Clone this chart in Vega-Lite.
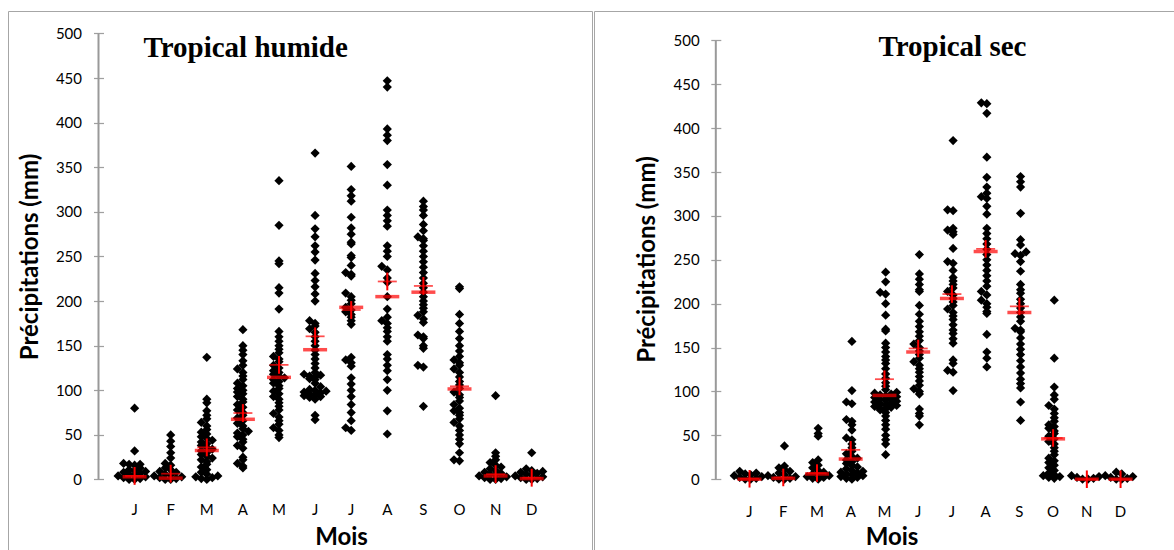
{
"$schema": "https://vega.github.io/schema/vega-lite/v6.json",
"background": "white",
"padding": {"left": 7, "top": 10, "right": 0, "bottom": 0},
"spacing": 0,
"config": {"view": {"stroke": "#a6a6a6", "strokeWidth": 1}, "font": "Lato"},
"datasets": {
"axisline": [{"m": 0}],
"pts": [
{"p":"h","m":1,"v":80},{"p":"h","m":1,"v":32},{"p":"h","m":1,"v":18},{"p":"h","m":1,"v":17},{"p":"h","m":1,"v":17},{"p":"h","m":1,"v":16},{"p":"h","m":1,"v":13},{"p":"h","m":1,"v":11},{"p":"h","m":1,"v":10},{"p":"h","m":1,"v":9},{"p":"h","m":1,"v":8},{"p":"h","m":1,"v":7},{"p":"h","m":1,"v":6},{"p":"h","m":1,"v":5},{"p":"h","m":1,"v":4},{"p":"h","m":1,"v":3},{"p":"h","m":1,"v":2},{"p":"h","m":1,"v":1},{"p":"h","m":1,"v":0},{"p":"h","m":1,"v":0},
{"p":"h","m":2,"v":50},{"p":"h","m":2,"v":43},{"p":"h","m":2,"v":37},{"p":"h","m":2,"v":30},{"p":"h","m":2,"v":24},{"p":"h","m":2,"v":18},{"p":"h","m":2,"v":16},{"p":"h","m":2,"v":13},{"p":"h","m":2,"v":11},{"p":"h","m":2,"v":9},{"p":"h","m":2,"v":8},{"p":"h","m":2,"v":6},{"p":"h","m":2,"v":5},{"p":"h","m":2,"v":4},{"p":"h","m":2,"v":3},{"p":"h","m":2,"v":2},{"p":"h","m":2,"v":1},{"p":"h","m":2,"v":0},{"p":"h","m":2,"v":0},
{"p":"h","m":3,"v":137},{"p":"h","m":3,"v":90},{"p":"h","m":3,"v":86},{"p":"h","m":3,"v":77},{"p":"h","m":3,"v":72},{"p":"h","m":3,"v":68},{"p":"h","m":3,"v":64},{"p":"h","m":3,"v":60},{"p":"h","m":3,"v":56},{"p":"h","m":3,"v":53},{"p":"h","m":3,"v":51},{"p":"h","m":3,"v":48},{"p":"h","m":3,"v":46},{"p":"h","m":3,"v":44},{"p":"h","m":3,"v":42},{"p":"h","m":3,"v":40},{"p":"h","m":3,"v":38},{"p":"h","m":3,"v":36},{"p":"h","m":3,"v":34},{"p":"h","m":3,"v":32},{"p":"h","m":3,"v":30},{"p":"h","m":3,"v":28},{"p":"h","m":3,"v":26},{"p":"h","m":3,"v":24},{"p":"h","m":3,"v":22},{"p":"h","m":3,"v":20},{"p":"h","m":3,"v":17},{"p":"h","m":3,"v":14},{"p":"h","m":3,"v":11},{"p":"h","m":3,"v":8},{"p":"h","m":3,"v":6},{"p":"h","m":3,"v":4},{"p":"h","m":3,"v":3},{"p":"h","m":3,"v":2},{"p":"h","m":3,"v":1},{"p":"h","m":3,"v":0},
{"p":"h","m":4,"v":168},{"p":"h","m":4,"v":150},{"p":"h","m":4,"v":145},{"p":"h","m":4,"v":140},{"p":"h","m":4,"v":133},{"p":"h","m":4,"v":128},{"p":"h","m":4,"v":124},{"p":"h","m":4,"v":120},{"p":"h","m":4,"v":116},{"p":"h","m":4,"v":112},{"p":"h","m":4,"v":108},{"p":"h","m":4,"v":105},{"p":"h","m":4,"v":102},{"p":"h","m":4,"v":100},{"p":"h","m":4,"v":98},{"p":"h","m":4,"v":96},{"p":"h","m":4,"v":93},{"p":"h","m":4,"v":90},{"p":"h","m":4,"v":87},{"p":"h","m":4,"v":84},{"p":"h","m":4,"v":81},{"p":"h","m":4,"v":78},{"p":"h","m":4,"v":75},{"p":"h","m":4,"v":72},{"p":"h","m":4,"v":69},{"p":"h","m":4,"v":66},{"p":"h","m":4,"v":63},{"p":"h","m":4,"v":60},{"p":"h","m":4,"v":57},{"p":"h","m":4,"v":54},{"p":"h","m":4,"v":52},{"p":"h","m":4,"v":50},{"p":"h","m":4,"v":48},{"p":"h","m":4,"v":45},{"p":"h","m":4,"v":42},{"p":"h","m":4,"v":38},{"p":"h","m":4,"v":35},{"p":"h","m":4,"v":25},{"p":"h","m":4,"v":22},{"p":"h","m":4,"v":18},{"p":"h","m":4,"v":15},{"p":"h","m":4,"v":13},
{"p":"h","m":5,"v":335},{"p":"h","m":5,"v":285},{"p":"h","m":5,"v":245},{"p":"h","m":5,"v":242},{"p":"h","m":5,"v":215},{"p":"h","m":5,"v":209},{"p":"h","m":5,"v":191},{"p":"h","m":5,"v":166},{"p":"h","m":5,"v":160},{"p":"h","m":5,"v":155},{"p":"h","m":5,"v":150},{"p":"h","m":5,"v":146},{"p":"h","m":5,"v":142},{"p":"h","m":5,"v":138},{"p":"h","m":5,"v":135},{"p":"h","m":5,"v":132},{"p":"h","m":5,"v":128},{"p":"h","m":5,"v":125},{"p":"h","m":5,"v":122},{"p":"h","m":5,"v":120},{"p":"h","m":5,"v":118},{"p":"h","m":5,"v":116},{"p":"h","m":5,"v":114},{"p":"h","m":5,"v":112},{"p":"h","m":5,"v":110},{"p":"h","m":5,"v":108},{"p":"h","m":5,"v":105},{"p":"h","m":5,"v":102},{"p":"h","m":5,"v":99},{"p":"h","m":5,"v":96},{"p":"h","m":5,"v":93},{"p":"h","m":5,"v":90},{"p":"h","m":5,"v":86},{"p":"h","m":5,"v":82},{"p":"h","m":5,"v":78},{"p":"h","m":5,"v":74},{"p":"h","m":5,"v":70},{"p":"h","m":5,"v":66},{"p":"h","m":5,"v":62},{"p":"h","m":5,"v":58},{"p":"h","m":5,"v":55},{"p":"h","m":5,"v":50},{"p":"h","m":5,"v":47},
{"p":"h","m":6,"v":366},{"p":"h","m":6,"v":296},{"p":"h","m":6,"v":281},{"p":"h","m":6,"v":272},{"p":"h","m":6,"v":262},{"p":"h","m":6,"v":255},{"p":"h","m":6,"v":246},{"p":"h","m":6,"v":231},{"p":"h","m":6,"v":223},{"p":"h","m":6,"v":216},{"p":"h","m":6,"v":208},{"p":"h","m":6,"v":200},{"p":"h","m":6,"v":178},{"p":"h","m":6,"v":175},{"p":"h","m":6,"v":172},{"p":"h","m":6,"v":169},{"p":"h","m":6,"v":165},{"p":"h","m":6,"v":160},{"p":"h","m":6,"v":155},{"p":"h","m":6,"v":150},{"p":"h","m":6,"v":145},{"p":"h","m":6,"v":140},{"p":"h","m":6,"v":135},{"p":"h","m":6,"v":130},{"p":"h","m":6,"v":125},{"p":"h","m":6,"v":120},{"p":"h","m":6,"v":118},{"p":"h","m":6,"v":117},{"p":"h","m":6,"v":116},{"p":"h","m":6,"v":115},{"p":"h","m":6,"v":113},{"p":"h","m":6,"v":112},{"p":"h","m":6,"v":108},{"p":"h","m":6,"v":104},{"p":"h","m":6,"v":101},{"p":"h","m":6,"v":100},{"p":"h","m":6,"v":99},{"p":"h","m":6,"v":98},{"p":"h","m":6,"v":97},{"p":"h","m":6,"v":96},{"p":"h","m":6,"v":95},{"p":"h","m":6,"v":94},{"p":"h","m":6,"v":93},{"p":"h","m":6,"v":92},{"p":"h","m":6,"v":90},{"p":"h","m":6,"v":72},{"p":"h","m":6,"v":67},
{"p":"h","m":7,"v":351},{"p":"h","m":7,"v":325},{"p":"h","m":7,"v":318},{"p":"h","m":7,"v":312},{"p":"h","m":7,"v":294},{"p":"h","m":7,"v":282},{"p":"h","m":7,"v":275},{"p":"h","m":7,"v":266},{"p":"h","m":7,"v":264},{"p":"h","m":7,"v":251},{"p":"h","m":7,"v":249},{"p":"h","m":7,"v":240},{"p":"h","m":7,"v":232},{"p":"h","m":7,"v":230},{"p":"h","m":7,"v":228},{"p":"h","m":7,"v":209},{"p":"h","m":7,"v":205},{"p":"h","m":7,"v":201},{"p":"h","m":7,"v":197},{"p":"h","m":7,"v":193},{"p":"h","m":7,"v":190},{"p":"h","m":7,"v":188},{"p":"h","m":7,"v":185},{"p":"h","m":7,"v":182},{"p":"h","m":7,"v":178},{"p":"h","m":7,"v":174},{"p":"h","m":7,"v":137},{"p":"h","m":7,"v":134},{"p":"h","m":7,"v":131},{"p":"h","m":7,"v":127},{"p":"h","m":7,"v":114},{"p":"h","m":7,"v":107},{"p":"h","m":7,"v":100},{"p":"h","m":7,"v":93},{"p":"h","m":7,"v":84},{"p":"h","m":7,"v":75},{"p":"h","m":7,"v":66},{"p":"h","m":7,"v":58},{"p":"h","m":7,"v":55},
{"p":"h","m":8,"v":447},{"p":"h","m":8,"v":440},{"p":"h","m":8,"v":393},{"p":"h","m":8,"v":386},{"p":"h","m":8,"v":380},{"p":"h","m":8,"v":353},{"p":"h","m":8,"v":330},{"p":"h","m":8,"v":302},{"p":"h","m":8,"v":296},{"p":"h","m":8,"v":290},{"p":"h","m":8,"v":284},{"p":"h","m":8,"v":262},{"p":"h","m":8,"v":256},{"p":"h","m":8,"v":250},{"p":"h","m":8,"v":239},{"p":"h","m":8,"v":235},{"p":"h","m":8,"v":226},{"p":"h","m":8,"v":221},{"p":"h","m":8,"v":205},{"p":"h","m":8,"v":191},{"p":"h","m":8,"v":182},{"p":"h","m":8,"v":178},{"p":"h","m":8,"v":175},{"p":"h","m":8,"v":170},{"p":"h","m":8,"v":166},{"p":"h","m":8,"v":160},{"p":"h","m":8,"v":155},{"p":"h","m":8,"v":140},{"p":"h","m":8,"v":135},{"p":"h","m":8,"v":128},{"p":"h","m":8,"v":122},{"p":"h","m":8,"v":112},{"p":"h","m":8,"v":100},{"p":"h","m":8,"v":77},{"p":"h","m":8,"v":51},
{"p":"h","m":9,"v":312},{"p":"h","m":9,"v":306},{"p":"h","m":9,"v":302},{"p":"h","m":9,"v":296},{"p":"h","m":9,"v":286},{"p":"h","m":9,"v":279},{"p":"h","m":9,"v":272},{"p":"h","m":9,"v":270},{"p":"h","m":9,"v":268},{"p":"h","m":9,"v":262},{"p":"h","m":9,"v":256},{"p":"h","m":9,"v":250},{"p":"h","m":9,"v":244},{"p":"h","m":9,"v":238},{"p":"h","m":9,"v":232},{"p":"h","m":9,"v":226},{"p":"h","m":9,"v":220},{"p":"h","m":9,"v":215},{"p":"h","m":9,"v":210},{"p":"h","m":9,"v":205},{"p":"h","m":9,"v":200},{"p":"h","m":9,"v":196},{"p":"h","m":9,"v":192},{"p":"h","m":9,"v":188},{"p":"h","m":9,"v":184},{"p":"h","m":9,"v":180},{"p":"h","m":9,"v":176},{"p":"h","m":9,"v":162},{"p":"h","m":9,"v":160},{"p":"h","m":9,"v":158},{"p":"h","m":9,"v":150},{"p":"h","m":9,"v":147},{"p":"h","m":9,"v":128},{"p":"h","m":9,"v":126},{"p":"h","m":9,"v":82},
{"p":"h","m":10,"v":216},{"p":"h","m":10,"v":214},{"p":"h","m":10,"v":185},{"p":"h","m":10,"v":175},{"p":"h","m":10,"v":166},{"p":"h","m":10,"v":158},{"p":"h","m":10,"v":150},{"p":"h","m":10,"v":144},{"p":"h","m":10,"v":138},{"p":"h","m":10,"v":134},{"p":"h","m":10,"v":131},{"p":"h","m":10,"v":128},{"p":"h","m":10,"v":124},{"p":"h","m":10,"v":120},{"p":"h","m":10,"v":115},{"p":"h","m":10,"v":110},{"p":"h","m":10,"v":106},{"p":"h","m":10,"v":102},{"p":"h","m":10,"v":98},{"p":"h","m":10,"v":95},{"p":"h","m":10,"v":92},{"p":"h","m":10,"v":88},{"p":"h","m":10,"v":84},{"p":"h","m":10,"v":80},{"p":"h","m":10,"v":77},{"p":"h","m":10,"v":75},{"p":"h","m":10,"v":72},{"p":"h","m":10,"v":68},{"p":"h","m":10,"v":64},{"p":"h","m":10,"v":60},{"p":"h","m":10,"v":55},{"p":"h","m":10,"v":50},{"p":"h","m":10,"v":45},{"p":"h","m":10,"v":40},{"p":"h","m":10,"v":30},{"p":"h","m":10,"v":22},{"p":"h","m":10,"v":21},
{"p":"h","m":11,"v":94},{"p":"h","m":11,"v":30},{"p":"h","m":11,"v":26},{"p":"h","m":11,"v":22},{"p":"h","m":11,"v":19},{"p":"h","m":11,"v":16},{"p":"h","m":11,"v":14},{"p":"h","m":11,"v":12},{"p":"h","m":11,"v":10},{"p":"h","m":11,"v":8},{"p":"h","m":11,"v":7},{"p":"h","m":11,"v":6},{"p":"h","m":11,"v":5},{"p":"h","m":11,"v":4},{"p":"h","m":11,"v":3},{"p":"h","m":11,"v":2},{"p":"h","m":11,"v":1},{"p":"h","m":11,"v":0},{"p":"h","m":11,"v":0},
{"p":"h","m":12,"v":30},{"p":"h","m":12,"v":12},{"p":"h","m":12,"v":10},{"p":"h","m":12,"v":9},{"p":"h","m":12,"v":8},{"p":"h","m":12,"v":7},{"p":"h","m":12,"v":6},{"p":"h","m":12,"v":5},{"p":"h","m":12,"v":4},{"p":"h","m":12,"v":3},{"p":"h","m":12,"v":2},{"p":"h","m":12,"v":1},{"p":"h","m":12,"v":0},{"p":"h","m":12,"v":0},
{"p":"s","m":1,"v":9},{"p":"s","m":1,"v":7},{"p":"s","m":1,"v":6},{"p":"s","m":1,"v":5},{"p":"s","m":1,"v":4},{"p":"s","m":1,"v":3},{"p":"s","m":1,"v":2},{"p":"s","m":1,"v":1},{"p":"s","m":1,"v":0},{"p":"s","m":1,"v":0},
{"p":"s","m":2,"v":38},{"p":"s","m":2,"v":15},{"p":"s","m":2,"v":13},{"p":"s","m":2,"v":11},{"p":"s","m":2,"v":9},{"p":"s","m":2,"v":7},{"p":"s","m":2,"v":5},{"p":"s","m":2,"v":4},{"p":"s","m":2,"v":3},{"p":"s","m":2,"v":2},{"p":"s","m":2,"v":1},{"p":"s","m":2,"v":0},{"p":"s","m":2,"v":0},
{"p":"s","m":3,"v":58},{"p":"s","m":3,"v":52},{"p":"s","m":3,"v":49},{"p":"s","m":3,"v":22},{"p":"s","m":3,"v":19},{"p":"s","m":3,"v":16},{"p":"s","m":3,"v":13},{"p":"s","m":3,"v":10},{"p":"s","m":3,"v":8},{"p":"s","m":3,"v":6},{"p":"s","m":3,"v":5},{"p":"s","m":3,"v":4},{"p":"s","m":3,"v":3},{"p":"s","m":3,"v":2},{"p":"s","m":3,"v":1},{"p":"s","m":3,"v":0},
{"p":"s","m":4,"v":157},{"p":"s","m":4,"v":101},{"p":"s","m":4,"v":88},{"p":"s","m":4,"v":86},{"p":"s","m":4,"v":68},{"p":"s","m":4,"v":66},{"p":"s","m":4,"v":62},{"p":"s","m":4,"v":56},{"p":"s","m":4,"v":47},{"p":"s","m":4,"v":45},{"p":"s","m":4,"v":40},{"p":"s","m":4,"v":36},{"p":"s","m":4,"v":32},{"p":"s","m":4,"v":29},{"p":"s","m":4,"v":26},{"p":"s","m":4,"v":24},{"p":"s","m":4,"v":22},{"p":"s","m":4,"v":20},{"p":"s","m":4,"v":18},{"p":"s","m":4,"v":16},{"p":"s","m":4,"v":14},{"p":"s","m":4,"v":12},{"p":"s","m":4,"v":10},{"p":"s","m":4,"v":9},{"p":"s","m":4,"v":8},{"p":"s","m":4,"v":7},{"p":"s","m":4,"v":6},{"p":"s","m":4,"v":5},{"p":"s","m":4,"v":4},{"p":"s","m":4,"v":3},{"p":"s","m":4,"v":2},{"p":"s","m":4,"v":1},{"p":"s","m":4,"v":0},
{"p":"s","m":5,"v":236},{"p":"s","m":5,"v":225},{"p":"s","m":5,"v":213},{"p":"s","m":5,"v":211},{"p":"s","m":5,"v":200},{"p":"s","m":5,"v":187},{"p":"s","m":5,"v":171},{"p":"s","m":5,"v":169},{"p":"s","m":5,"v":155},{"p":"s","m":5,"v":150},{"p":"s","m":5,"v":145},{"p":"s","m":5,"v":140},{"p":"s","m":5,"v":136},{"p":"s","m":5,"v":132},{"p":"s","m":5,"v":126},{"p":"s","m":5,"v":120},{"p":"s","m":5,"v":115},{"p":"s","m":5,"v":110},{"p":"s","m":5,"v":106},{"p":"s","m":5,"v":102},{"p":"s","m":5,"v":99},{"p":"s","m":5,"v":98},{"p":"s","m":5,"v":97},{"p":"s","m":5,"v":96},{"p":"s","m":5,"v":95},{"p":"s","m":5,"v":94},{"p":"s","m":5,"v":93},{"p":"s","m":5,"v":92},{"p":"s","m":5,"v":91},{"p":"s","m":5,"v":90},{"p":"s","m":5,"v":89},{"p":"s","m":5,"v":88},{"p":"s","m":5,"v":87},{"p":"s","m":5,"v":86},{"p":"s","m":5,"v":85},{"p":"s","m":5,"v":84},{"p":"s","m":5,"v":83},{"p":"s","m":5,"v":82},{"p":"s","m":5,"v":81},{"p":"s","m":5,"v":80},{"p":"s","m":5,"v":79},{"p":"s","m":5,"v":76},{"p":"s","m":5,"v":72},{"p":"s","m":5,"v":67},{"p":"s","m":5,"v":62},{"p":"s","m":5,"v":57},{"p":"s","m":5,"v":50},{"p":"s","m":5,"v":45},{"p":"s","m":5,"v":40},{"p":"s","m":5,"v":28},
{"p":"s","m":6,"v":256},{"p":"s","m":6,"v":234},{"p":"s","m":6,"v":228},{"p":"s","m":6,"v":222},{"p":"s","m":6,"v":216},{"p":"s","m":6,"v":214},{"p":"s","m":6,"v":198},{"p":"s","m":6,"v":188},{"p":"s","m":6,"v":180},{"p":"s","m":6,"v":174},{"p":"s","m":6,"v":168},{"p":"s","m":6,"v":163},{"p":"s","m":6,"v":158},{"p":"s","m":6,"v":154},{"p":"s","m":6,"v":150},{"p":"s","m":6,"v":146},{"p":"s","m":6,"v":142},{"p":"s","m":6,"v":138},{"p":"s","m":6,"v":134},{"p":"s","m":6,"v":130},{"p":"s","m":6,"v":126},{"p":"s","m":6,"v":122},{"p":"s","m":6,"v":117},{"p":"s","m":6,"v":112},{"p":"s","m":6,"v":107},{"p":"s","m":6,"v":103},{"p":"s","m":6,"v":100},{"p":"s","m":6,"v":97},{"p":"s","m":6,"v":80},{"p":"s","m":6,"v":75},{"p":"s","m":6,"v":72},{"p":"s","m":6,"v":62},
{"p":"s","m":7,"v":386},{"p":"s","m":7,"v":307},{"p":"s","m":7,"v":306},{"p":"s","m":7,"v":286},{"p":"s","m":7,"v":284},{"p":"s","m":7,"v":282},{"p":"s","m":7,"v":279},{"p":"s","m":7,"v":263},{"p":"s","m":7,"v":248},{"p":"s","m":7,"v":246},{"p":"s","m":7,"v":238},{"p":"s","m":7,"v":230},{"p":"s","m":7,"v":226},{"p":"s","m":7,"v":222},{"p":"s","m":7,"v":218},{"p":"s","m":7,"v":214},{"p":"s","m":7,"v":210},{"p":"s","m":7,"v":206},{"p":"s","m":7,"v":202},{"p":"s","m":7,"v":198},{"p":"s","m":7,"v":194},{"p":"s","m":7,"v":190},{"p":"s","m":7,"v":186},{"p":"s","m":7,"v":182},{"p":"s","m":7,"v":176},{"p":"s","m":7,"v":170},{"p":"s","m":7,"v":166},{"p":"s","m":7,"v":160},{"p":"s","m":7,"v":155},{"p":"s","m":7,"v":136},{"p":"s","m":7,"v":132},{"p":"s","m":7,"v":124},{"p":"s","m":7,"v":122},{"p":"s","m":7,"v":101},
{"p":"s","m":8,"v":429},{"p":"s","m":8,"v":428},{"p":"s","m":8,"v":417},{"p":"s","m":8,"v":367},{"p":"s","m":8,"v":344},{"p":"s","m":8,"v":333},{"p":"s","m":8,"v":326},{"p":"s","m":8,"v":322},{"p":"s","m":8,"v":320},{"p":"s","m":8,"v":311},{"p":"s","m":8,"v":302},{"p":"s","m":8,"v":286},{"p":"s","m":8,"v":280},{"p":"s","m":8,"v":274},{"p":"s","m":8,"v":268},{"p":"s","m":8,"v":262},{"p":"s","m":8,"v":256},{"p":"s","m":8,"v":250},{"p":"s","m":8,"v":244},{"p":"s","m":8,"v":238},{"p":"s","m":8,"v":232},{"p":"s","m":8,"v":226},{"p":"s","m":8,"v":220},{"p":"s","m":8,"v":214},{"p":"s","m":8,"v":210},{"p":"s","m":8,"v":204},{"p":"s","m":8,"v":200},{"p":"s","m":8,"v":196},{"p":"s","m":8,"v":191},{"p":"s","m":8,"v":189},{"p":"s","m":8,"v":165},{"p":"s","m":8,"v":145},{"p":"s","m":8,"v":138},{"p":"s","m":8,"v":128},
{"p":"s","m":9,"v":345},{"p":"s","m":9,"v":339},{"p":"s","m":9,"v":333},{"p":"s","m":9,"v":303},{"p":"s","m":9,"v":273},{"p":"s","m":9,"v":267},{"p":"s","m":9,"v":259},{"p":"s","m":9,"v":257},{"p":"s","m":9,"v":255},{"p":"s","m":9,"v":248},{"p":"s","m":9,"v":237},{"p":"s","m":9,"v":222},{"p":"s","m":9,"v":216},{"p":"s","m":9,"v":212},{"p":"s","m":9,"v":205},{"p":"s","m":9,"v":200},{"p":"s","m":9,"v":195},{"p":"s","m":9,"v":190},{"p":"s","m":9,"v":185},{"p":"s","m":9,"v":180},{"p":"s","m":9,"v":172},{"p":"s","m":9,"v":170},{"p":"s","m":9,"v":168},{"p":"s","m":9,"v":161},{"p":"s","m":9,"v":154},{"p":"s","m":9,"v":148},{"p":"s","m":9,"v":142},{"p":"s","m":9,"v":135},{"p":"s","m":9,"v":128},{"p":"s","m":9,"v":121},{"p":"s","m":9,"v":114},{"p":"s","m":9,"v":109},{"p":"s","m":9,"v":104},{"p":"s","m":9,"v":88},{"p":"s","m":9,"v":67},
{"p":"s","m":10,"v":204},{"p":"s","m":10,"v":138},{"p":"s","m":10,"v":105},{"p":"s","m":10,"v":96},{"p":"s","m":10,"v":91},{"p":"s","m":10,"v":84},{"p":"s","m":10,"v":80},{"p":"s","m":10,"v":75},{"p":"s","m":10,"v":70},{"p":"s","m":10,"v":66},{"p":"s","m":10,"v":62},{"p":"s","m":10,"v":60},{"p":"s","m":10,"v":58},{"p":"s","m":10,"v":55},{"p":"s","m":10,"v":52},{"p":"s","m":10,"v":49},{"p":"s","m":10,"v":46},{"p":"s","m":10,"v":43},{"p":"s","m":10,"v":40},{"p":"s","m":10,"v":36},{"p":"s","m":10,"v":32},{"p":"s","m":10,"v":28},{"p":"s","m":10,"v":24},{"p":"s","m":10,"v":21},{"p":"s","m":10,"v":19},{"p":"s","m":10,"v":16},{"p":"s","m":10,"v":13},{"p":"s","m":10,"v":10},{"p":"s","m":10,"v":7},{"p":"s","m":10,"v":5},{"p":"s","m":10,"v":4},{"p":"s","m":10,"v":3},{"p":"s","m":10,"v":2},{"p":"s","m":10,"v":1},
{"p":"s","m":11,"v":4},{"p":"s","m":11,"v":3},{"p":"s","m":11,"v":2},{"p":"s","m":11,"v":1},{"p":"s","m":11,"v":0},{"p":"s","m":11,"v":0},
{"p":"s","m":12,"v":8},{"p":"s","m":12,"v":6},{"p":"s","m":12,"v":4},{"p":"s","m":12,"v":3},{"p":"s","m":12,"v":2},{"p":"s","m":12,"v":1},{"p":"s","m":12,"v":0},{"p":"s","m":12,"v":0}
],
"sum": [
{"p":"h","m":1,"mean":4,"lo":-6,"hi":14,"med":3},
{"p":"h","m":2,"mean":6.5,"lo":-3.5,"hi":16.5,"med":1.5},
{"p":"h","m":3,"mean":36,"lo":26,"hi":46,"med":32.5},
{"p":"h","m":4,"mean":74.5,"lo":64.5,"hi":84.5,"med":67.5},
{"p":"h","m":5,"mean":128.5,"lo":118.5,"hi":138.5,"med":114.5},
{"p":"h","m":6,"mean":160.5,"lo":150.5,"hi":170.5,"med":145.5},
{"p":"h","m":7,"mean":190,"lo":180,"hi":200,"med":193},
{"p":"h","m":8,"mean":222,"lo":212,"hi":232,"med":205},
{"p":"h","m":9,"mean":217,"lo":207,"hi":227,"med":210},
{"p":"h","m":10,"mean":104.5,"lo":94.5,"hi":114.5,"med":101.5},
{"p":"h","m":11,"mean":6,"lo":-4,"hi":16,"med":4},
{"p":"h","m":12,"mean":2,"lo":-8,"hi":12,"med":1},
{"p":"s","m":1,"mean":0.5,"lo":-9.5,"hi":10.5,"med":0},
{"p":"s","m":2,"mean":2,"lo":-8,"hi":12,"med":1},
{"p":"s","m":3,"mean":7,"lo":-3,"hi":17,"med":6},
{"p":"s","m":4,"mean":33.5,"lo":23.5,"hi":43.5,"med":23},
{"p":"s","m":5,"mean":114,"lo":104,"hi":124,"med":95.5},
{"p":"s","m":6,"mean":149,"lo":139,"hi":159,"med":145},
{"p":"s","m":7,"mean":211,"lo":201,"hi":221,"med":206},
{"p":"s","m":8,"mean":262.5,"lo":252.5,"hi":272.5,"med":259.5},
{"p":"s","m":9,"mean":197,"lo":187,"hi":207,"med":190},
{"p":"s","m":10,"mean":47,"lo":37,"hi":57,"med":46},
{"p":"s","m":11,"mean":0,"lo":-10,"hi":10,"med":0},
{"p":"s","m":12,"mean":0,"lo":-10,"hi":10,"med":0}
]
},
"hconcat": [
{
"width": 584, "height": 540,
"title": {"text": "Tropical humide", "anchor": "start", "frame": "group", "orient": "top", "offset": 0, "dx": 135.5, "dy": 74.5, "baseline": "alphabetic", "font": "Liberation Serif", "fontSize": 29, "fontWeight": "bold", "color": "#000000"},
"layer": [
{"data": {"name": "pts"},
 "transform": [
  {"filter": "datum.p == 'h'"},
  {"bin": {"step": 5, "extent": [0, 500]}, "field": "v", "as": "vb"},
  {"window": [{"op": "row_number", "as": "r"}], "groupby": ["m", "vb"], "sort": [{"field": "v", "order": "ascending"}]}
 ],
 "mark": {"type": "point", "shape": "diamond", "filled": true, "color": "#000000", "opacity": 1, "size": 85},
 "encoding": {
  "x": {"field": "m", "type": "ordinal", "title": "Mois", "scale": {"type": "band", "domain": [0,1,2,3,4,5,6,7,8,9,10,11,12], "paddingInner": 0, "paddingOuter": 0, "range": [72.45, 541.75]},
   "axis": {"values": [1,2,3,4,5,6,7,8,9,10,11,12], "labelExpr": "['','J','F','M','A','M','J','J','A','S','O','N','D'][datum.value]", "labelAngle": 0, "domain": false, "ticks": false, "grid": false, "offset": -72, "labelPadding": 30, "labelBaseline": "middle", "labelFont": "Lato", "labelFontSize": 15, "labelColor": "#000000", "title": "Mois", "titleFont": "Lato", "titleFontSize": 24, "titleFontWeight": "bold", "titleColor": "#000000", "titleX": 333, "titleY": 65, "titleAlign": "center", "titleBaseline": "alphabetic"}},
  "xOffset": {"field": "r", "type": "ordinal", "scale": {"domain": [10,8,6,4,2,1,3,5,7,9,11], "range": [-12.2, 48.3]}},
  "y": {"field": "v", "type": "quantitative", "title": "Précipitations (mm)", "scale": {"domain": [-80.16, 525.22], "nice": false, "zero": false},
   "axis": {"values": [0,50,100,150,200,250,300,350,400,450,500], "domain": false, "grid": false, "offset": -95.5, "tickSize": 10, "tickColor": "#a0a0a0", "tickWidth": 1.25, "labelPadding": 12, "labelFont": "Lato", "labelFontSize": 15, "labelColor": "#000000", "title": "Précipitations (mm)", "titleFont": "Lato", "titleFontSize": 24, "titleFontWeight": "bold", "titleColor": "#000000", "titleAngle": -90, "titleX": -73, "titleY": 245.5, "titleAlign": "center", "titleBaseline": "middle"}}
 }},
{"data": {"name": "axisline"}, "mark": {"type": "rule", "color": "#999999", "strokeWidth": 2},
 "encoding": {
  "x": {"field": "m", "type": "ordinal", "title": "Mois"},
  "y": {"datum": 0, "type": "quantitative", "title": "Précipitations (mm)"},
  "y2": {"datum": 500}}},
{"data": {"name": "sum"}, "transform": [{"filter": "datum.p == 'h'"}],
 "mark": {"type": "tick", "orient": "horizontal", "color": "#ff0000", "size": 24, "thickness": 3.5},
 "encoding": {"x": {"field": "m", "type": "ordinal", "title": "Mois"}, "y": {"field": "med", "type": "quantitative", "title": "Précipitations (mm)"}}},
{"data": {"name": "sum"}, "transform": [{"filter": "datum.p == 'h'"}],
 "mark": {"type": "rule", "color": "#ff0000", "strokeWidth": 2},
 "encoding": {"x": {"field": "m", "type": "ordinal", "title": "Mois"}, "y": {"field": "lo", "type": "quantitative", "title": "Précipitations (mm)"}, "y2": {"field": "hi"}}},
{"data": {"name": "sum"}, "transform": [{"filter": "datum.p == 'h'"}],
 "mark": {"type": "tick", "orient": "horizontal", "color": "#ff0000", "size": 19, "thickness": 1.75},
 "encoding": {"x": {"field": "m", "type": "ordinal", "title": "Mois"}, "y": {"field": "mean", "type": "quantitative", "title": "Précipitations (mm)"}}}
]
},
{
"width": 583, "height": 540,
"title": {"text": "Tropical sec", "anchor": "start", "frame": "group", "orient": "top", "offset": 0, "dx": 284.5, "dy": 73.5, "baseline": "alphabetic", "font": "Liberation Serif", "fontSize": 29, "fontWeight": "bold", "color": "#000000"},
"layer": [
{"data": {"name": "pts"},
 "transform": [
  {"filter": "datum.p == 's'"},
  {"bin": {"step": 5, "extent": [0, 500]}, "field": "v", "as": "vb"},
  {"window": [{"op": "row_number", "as": "r"}], "groupby": ["m", "vb"], "sort": [{"field": "v", "order": "ascending"}]}
 ],
 "mark": {"type": "point", "shape": "diamond", "filled": true, "color": "#000000", "opacity": 1, "size": 85},
 "encoding": {
  "x": {"field": "m", "type": "ordinal", "title": "Mois", "scale": {"type": "band", "domain": [0,1,2,3,4,5,6,7,8,9,10,11,12], "paddingInner": 0, "paddingOuter": 0, "range": [104.94, 543.43]},
   "axis": {"values": [1,2,3,4,5,6,7,8,9,10,11,12], "labelExpr": "['','J','F','M','A','M','J','J','A','S','O','N','D'][datum.value]", "labelAngle": 0, "domain": false, "ticks": false, "grid": false, "offset": -71.8, "labelPadding": 32, "labelBaseline": "middle", "labelFont": "Lato", "labelFontSize": 15, "labelColor": "#000000", "title": "Mois", "titleFont": "Lato", "titleFontSize": 24, "titleFontWeight": "bold", "titleColor": "#000000", "titleX": 297.5, "titleY": 65, "titleAlign": "center", "titleBaseline": "alphabetic"}},
  "xOffset": {"field": "r", "type": "ordinal", "scale": {"domain": [10,8,6,4,2,1,3,5,7,9,11], "range": [-13.4, 47.1]}},
  "y": {"field": "v", "type": "quantitative", "title": "Précipitations (mm)", "scale": {"domain": [-81.8, 533.6], "nice": false, "zero": false},
   "axis": {"values": [0,50,100,150,200,250,300,350,400,450,500], "domain": false, "grid": false, "offset": -126.8, "tickSize": 10, "tickColor": "#a0a0a0", "tickWidth": 1.25, "labelPadding": 11.7, "labelFont": "Lato", "labelFontSize": 15, "labelColor": "#000000", "title": "Précipitations (mm)", "titleFont": "Lato", "titleFontSize": 24, "titleFontWeight": "bold", "titleColor": "#000000", "titleAngle": -90, "titleX": -73.3, "titleY": 248, "titleAlign": "center", "titleBaseline": "middle"}}
 }},
{"data": {"name": "axisline"}, "mark": {"type": "rule", "color": "#999999", "strokeWidth": 2},
 "encoding": {
  "x": {"field": "m", "type": "ordinal", "title": "Mois"},
  "y": {"datum": 0, "type": "quantitative", "title": "Précipitations (mm)"},
  "y2": {"datum": 500}}},
{"data": {"name": "sum"}, "transform": [{"filter": "datum.p == 's'"}],
 "mark": {"type": "tick", "orient": "horizontal", "color": "#ff0000", "size": 24, "thickness": 3.5},
 "encoding": {"x": {"field": "m", "type": "ordinal", "title": "Mois"}, "y": {"field": "med", "type": "quantitative", "title": "Précipitations (mm)"}}},
{"data": {"name": "sum"}, "transform": [{"filter": "datum.p == 's'"}],
 "mark": {"type": "rule", "color": "#ff0000", "strokeWidth": 2},
 "encoding": {"x": {"field": "m", "type": "ordinal", "title": "Mois"}, "y": {"field": "lo", "type": "quantitative", "title": "Précipitations (mm)"}, "y2": {"field": "hi"}}},
{"data": {"name": "sum"}, "transform": [{"filter": "datum.p == 's'"}],
 "mark": {"type": "tick", "orient": "horizontal", "color": "#ff0000", "size": 19, "thickness": 1.75},
 "encoding": {"x": {"field": "m", "type": "ordinal", "title": "Mois"}, "y": {"field": "mean", "type": "quantitative", "title": "Précipitations (mm)"}}}
]
}
]
}
